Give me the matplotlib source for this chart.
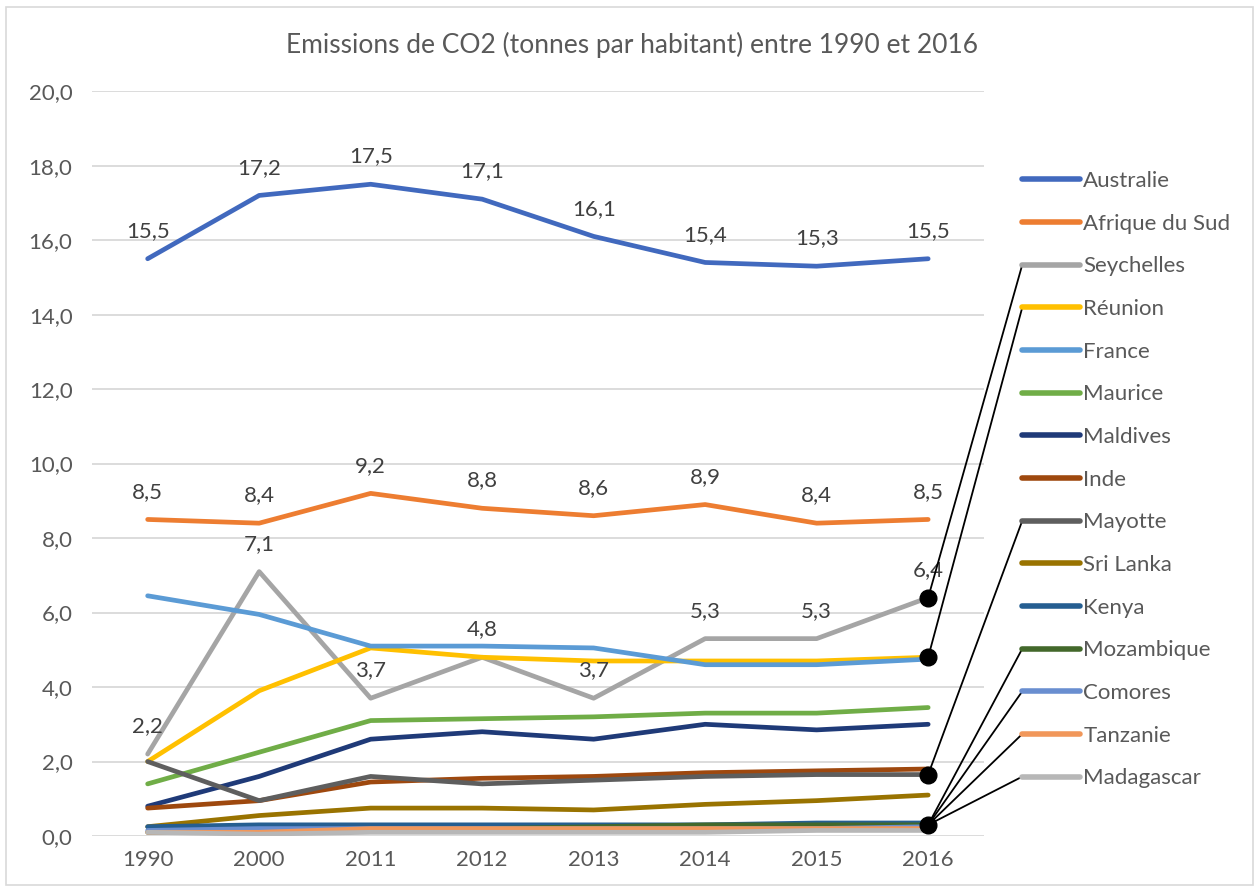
import matplotlib.pyplot as plt
from matplotlib.lines import Line2D
from matplotlib.patches import Rectangle

# Categories and series
years = ["1990", "2000", "2011", "2012", "2013", "2014", "2015", "2016"]

australie = [15.5, 17.2, 17.5, 17.1, 16.1, 15.4, 15.3, 15.5]
afrique_du_sud = [8.5, 8.4, 9.2, 8.8, 8.6, 8.9, 8.4, 8.5]
seychelles = [2.2, 7.1, 3.7, 4.8, 3.7, 5.3, 5.3, 6.4]
reunion = [2.0, 3.9, 5.05, 4.8, 4.7, 4.7, 4.7, 4.8]
france = [6.45, 5.95, 5.1, 5.1, 5.05, 4.6, 4.6, 4.75]
maurice = [1.4, 2.25, 3.1, 3.15, 3.2, 3.3, 3.3, 3.45]
maldives = [0.8, 1.6, 2.6, 2.8, 2.6, 3.0, 2.85, 3.0]
inde = [0.75, 0.95, 1.45, 1.55, 1.6, 1.7, 1.75, 1.8]
mayotte = [2.0, 0.95, 1.6, 1.4, 1.5, 1.6, 1.65, 1.65]
sri_lanka = [0.25, 0.55, 0.75, 0.75, 0.7, 0.85, 0.95, 1.1]
kenya = [0.25, 0.3, 0.3, 0.3, 0.3, 0.3, 0.35, 0.35]
mozambique = [0.1, 0.1, 0.15, 0.2, 0.25, 0.3, 0.3, 0.3]
comores = [0.15, 0.2, 0.2, 0.2, 0.2, 0.2, 0.2, 0.25]
tanzanie = [0.1, 0.1, 0.2, 0.2, 0.2, 0.2, 0.2, 0.2]
madagascar = [0.1, 0.05, 0.1, 0.1, 0.1, 0.1, 0.15, 0.15]

names = ["Australie", "Afrique du Sud", "Seychelles", "Réunion", "France",
         "Maurice", "Maldives", "Inde", "Mayotte", "Sri Lanka", "Kenya",
         "Mozambique", "Comores", "Tanzanie", "Madagascar"]
series = [australie, afrique_du_sud, seychelles, reunion, france, maurice,
          maldives, inde, mayotte, sri_lanka, kenya, mozambique, comores,
          tanzanie, madagascar]
colors = ["#4169BE", "#ED7D31", "#A5A5A5", "#FFC000", "#5B9BD5", "#70AD47",
          "#1F3A78", "#9E480E", "#5E5E5E", "#997300", "#255E91", "#43682B",
          "#698ED0", "#F1975A", "#B7B7B7"]

# series that get data labels
labelled = ["Australie", "Afrique du Sud", "Seychelles"]

# callouts: dot on a series' last point -> legend entries
callouts = [("Seychelles", ["Seychelles"]),
            ("Réunion", ["Réunion"]),
            ("Mayotte", ["Mayotte"]),
            ("Mozambique", ["Mozambique", "Comores", "Tanzanie", "Madagascar"])]

plt.rcParams['font.family'] = ['Lato', 'DejaVu Sans']
text_color = "#595959"

fig = plt.figure(figsize=(12.59, 8.91), dpi=100)
ax = fig.add_axes([0.073, 0.0617, 0.7085, 0.836])

x = range(len(years))
for name, vals, c in zip(names, series, colors):
    ax.plot(x, vals, color=c, linewidth=3.4, label=name, solid_capstyle='round')
    if name in labelled:
        for xi, v in zip(x, vals):
            ax.annotate(f"{v:.1f}".replace(".", ","), (xi, v), xytext=(0, 20),
                        textcoords='offset points', ha='center', va='center',
                        fontsize=16, color="#404040")

ax.set_xlim(-0.5, len(years) - 0.5)
ax.set_ylim(0, 20)
ax.set_yticks(range(0, 21, 2))
ax.set_yticklabels([f"{v},0" for v in range(0, 21, 2)])
ax.set_xticks(list(x))
ax.set_xticklabels(years)
ax.grid(axis='y', color="#D9D9D9", linewidth=1.3)
ax.set_axisbelow(True)
for s in ax.spines.values():
    s.set_visible(False)
ax.tick_params(axis='both', length=0, labelsize=16, labelcolor=text_color)
ax.tick_params(axis='y', pad=14)
ax.tick_params(axis='x', pad=10)

fig.text(0.502, 0.949, "Emissions de CO2 (tonnes par habitant) entre 1990 et 2016",
         ha='center', va='center', fontsize=19, color=text_color)

leg = fig.legend(loc='upper left', bbox_to_anchor=(0.812, 0.808), frameon=False,
                 fontsize=16, handlelength=2.6, handletextpad=0.15,
                 labelspacing=1.02, borderpad=0, borderaxespad=0,
                 labelcolor=text_color)
for h in leg.get_lines():
    h.set_linewidth(4)

# chart border
fig.add_artist(Rectangle((0.005, 0.007), 0.99, 0.985, transform=fig.transFigure,
                         fill=False, edgecolor="#D9D9D9", linewidth=1.2))

# callout lines from the last points to the legend handles
fig.canvas.draw()
renderer = fig.canvas.get_renderer()
handle_pos = {}
for name, h in zip(names, leg.get_lines()):
    bb = h.get_window_extent(renderer)
    handle_pos[name] = (bb.x0, (bb.y0 + bb.y1) / 2)

inv = fig.transFigure.inverted()
for src, targets in callouts:
    vals = series[names.index(src)]
    px, py = ax.transData.transform((len(years) - 1, vals[-1]))
    for t in targets:
        tx, ty = handle_pos[t]
        (fx0, fy0), (fx1, fy1) = inv.transform([(px, py), (tx, ty)])
        fig.add_artist(Line2D([fx0, fx1], [fy0, fy1], transform=fig.transFigure,
                              color="black", linewidth=1.3, zorder=5))
    fx, fy = inv.transform((px, py))
    fig.add_artist(Line2D([fx], [fy], transform=fig.transFigure, marker='o',
                          markersize=12, color="black", zorder=6))

fig.savefig("out.png", dpi=100)
